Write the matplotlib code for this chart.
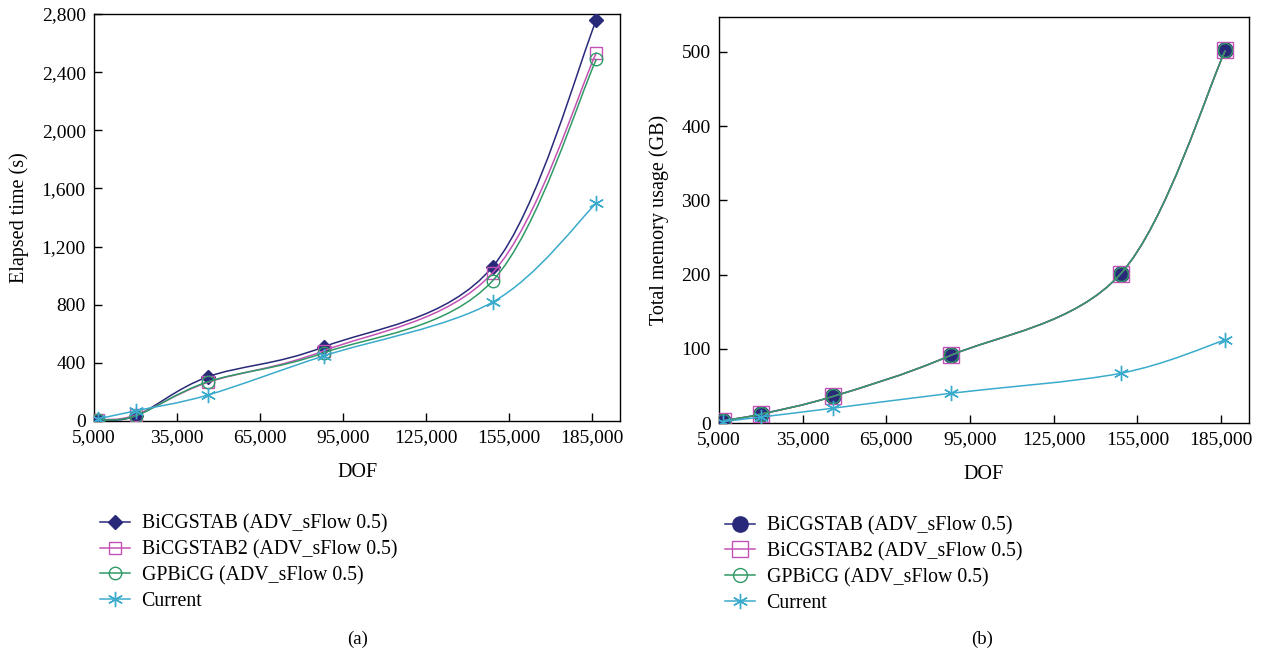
import matplotlib
import numpy as np

matplotlib.use("Agg")
import matplotlib.pyplot as plt
from matplotlib.path import Path
from matplotlib.patches import PathPatch
from matplotlib.ticker import FuncFormatter

plt.rcParams["font.family"] = ["Liberation Serif", "DejaVu Serif"]

# --- data ---
dof = [6500, 20000, 46000, 88000, 149000, 186500]

labels = [
    "BiCGSTAB (ADV_sFlow 0.5)",
    "BiCGSTAB2 (ADV_sFlow 0.5)",
    "GPBiCG (ADV_sFlow 0.5)",
    "Current",
]

time_bicgstab = [8, 35, 303, 510, 1062, 2760]
time_bicgstab2 = [8, 40, 265, 483, 1020, 2535]
time_gpbicg = [8, 35, 269, 469, 965, 2490]
time_current = [15, 70, 178, 448, 818, 1500]

mem_bicgstab = [3, 12, 36, 91, 201, 502]
mem_bicgstab2 = [3, 12, 36, 91, 201, 502]
mem_gpbicg = [3, 12, 36, 91, 201, 502]
mem_current = [2, 8, 20, 40, 67, 112]

colors = ["#29297a", "#c452b4", "#2f9a66", "#3aabcc"]
xticks = [5000, 35000, 65000, 95000, 125000, 155000, 185000]
STAR = (6, 2, 0)


def smooth_path(xs, ys):
    # Catmull-Rom style cubic Bezier through the points (like Excel "smoothed line")
    xs = np.asarray(xs, dtype=float)
    ys = np.asarray(ys, dtype=float)
    n = len(xs)
    verts = [(xs[0], ys[0])]
    codes = [Path.MOVETO]
    for i in range(n - 1):
        i0 = max(i - 1, 0)
        i3 = min(i + 2, n - 1)
        c1 = (xs[i] + (xs[i + 1] - xs[i0]) / 6, ys[i] + (ys[i + 1] - ys[i0]) / 6)
        c2 = (xs[i + 1] - (xs[i3] - xs[i]) / 6, ys[i + 1] - (ys[i3] - ys[i]) / 6)
        verts += [c1, c2, (xs[i + 1], ys[i + 1])]
        codes += [Path.CURVE4] * 3
    return Path(verts, codes)


def draw_series(ax, xs, ys, color, marker, label, ms, mfc, z):
    patch = PathPatch(smooth_path(xs, ys), facecolor="none", edgecolor=color,
                      linewidth=1.1, zorder=z)
    ax.add_patch(patch)
    ax.plot(xs, ys, linestyle="none", marker=marker, markersize=ms, color=color,
            markerfacecolor=mfc, markeredgecolor=color, markeredgewidth=1.0,
            zorder=z + 0.5)
    # legend proxy
    ax.plot([], [], color=color, linewidth=1.1, marker=marker, markersize=ms,
            markerfacecolor=mfc, markeredgecolor=color, markeredgewidth=1.0,
            label=label)


def style_axes(ax, ylim, yticks, ylabel, yfmt):
    ax.set_xlim(5000, 195000)
    ax.set_ylim(*ylim)
    ax.set_xticks(xticks)
    ax.set_yticks(yticks)
    ax.xaxis.set_major_formatter(FuncFormatter(lambda v, p: f"{int(v):,}"))
    ax.yaxis.set_major_formatter(FuncFormatter(yfmt))
    ax.tick_params(direction="in", length=6, width=1.0, labelsize=14, pad=6)
    ax.set_xlabel("DOF", fontsize=14.5, labelpad=12)
    ax.set_ylabel(ylabel, fontsize=14.5, labelpad=9)
    for sp in ax.spines.values():
        sp.set_linewidth(1.0)
    ax.legend(loc="upper left", bbox_to_anchor=(0.011, -0.23), frameon=False,
              fontsize=14.3, handlelength=1.5, handletextpad=0.6,
              labelspacing=0.33, borderaxespad=0, borderpad=0)


fig = plt.figure(figsize=(12.62, 6.54), dpi=100)
ax1 = fig.add_axes([0.0745, 0.3563, 0.4168, 0.6223])
ax2 = fig.add_axes([0.5697, 0.3532, 0.4200, 0.6208])

time_series = [time_bicgstab, time_bicgstab2, time_gpbicg, time_current]
left_markers = ["D", "s", "o", STAR]
left_fill = [colors[0], "none", "none", colors[3]]
left_ms = [7, 9, 9, 11]
for i, ys in enumerate(time_series):
    draw_series(ax1, dof, ys, colors[i], left_markers[i], labels[i],
                left_ms[i], left_fill[i], 3 + i)
style_axes(ax1, (0, 2800), list(range(0, 2801, 400)), "Elapsed time (s)",
           lambda v, p: f"{int(v):,}")

mem_series = [mem_bicgstab, mem_bicgstab2, mem_gpbicg, mem_current]
right_markers = ["o", "s", "o", STAR]
right_fill = [colors[0], "none", "none", colors[3]]
right_ms = [11, 11, 10, 11]
for i, ys in enumerate(mem_series):
    draw_series(ax2, dof, ys, colors[i], right_markers[i], labels[i],
                right_ms[i], right_fill[i], 3 + i)
style_axes(ax2, (0, 547), list(range(0, 501, 100)), "Total memory usage (GB)",
           lambda v, p: f"{int(v)}")

fig.text(0.2835, 0.022, "(a)", ha="center", va="center", fontsize=13.5)
fig.text(0.7785, 0.022, "(b)", ha="center", va="center", fontsize=13.5)

fig.savefig("out.png", dpi=100)
